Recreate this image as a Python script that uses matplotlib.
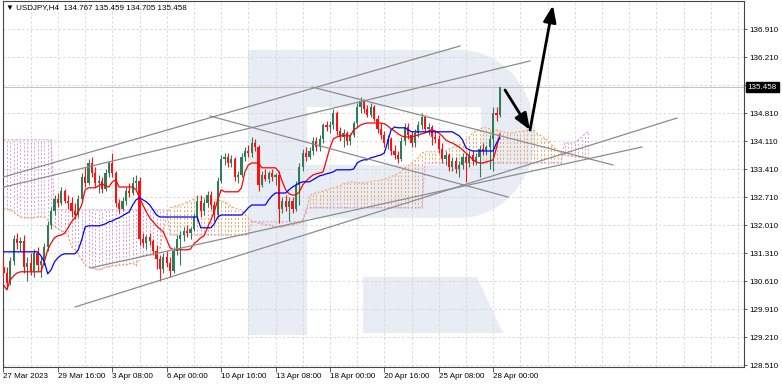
import matplotlib
matplotlib.use("Agg")
import matplotlib.pyplot as plt
from matplotlib.patches import Rectangle, Polygon, Ellipse
from matplotlib.transforms import blended_transform_factory
import numpy as np

plt.rcParams['font.family'] = ['Liberation Sans', 'DejaVu Sans']

# ---------------- data (H4 bars, index 0 = 27 Mar 2023 00:00) ----------------
open_ = [130.95,130.80,130.55,131.10,131.65,131.55,131.60,130.95,131.05,130.85,
         131.30,131.00,131.10,131.45,132.00,132.35,132.65,132.55,132.85,132.60,
         132.55,132.35,132.25,132.65,133.20,133.05,133.55,133.30,133.05,133.10,
         132.90,133.30,133.55,133.30,132.55,132.40,132.60,132.85,132.80,133.05,
         133.10,131.65,131.55,131.70,131.60,131.35,131.15,130.90,131.20,131.05,
         130.85,131.35,131.65,131.75,131.85,131.80,131.90,132.20,132.60,132.35,
         132.55,132.75,132.50,132.25,133.10,133.65,133.70,133.55,133.65,133.20,
         133.25,133.70,133.85,133.80,134.05,133.95,133.00,133.25,133.15,133.30,
         133.20,133.25,132.40,132.60,132.45,132.60,132.40,133.00,133.45,133.80,
         133.70,133.85,134.10,133.95,134.15,134.50,134.45,134.50,134.80,134.35,
         134.20,134.30,134.10,134.25,134.55,134.95,135.10,134.90,134.75,134.95,
         134.65,134.40,134.25,134.05,134.15,133.85,133.75,133.65,134.10,134.45,
         134.25,134.05,134.30,134.50,134.70,134.40,134.45,134.20,134.15,133.90,
         133.65,133.75,133.45,133.60,133.40,133.50,133.70,133.55,133.75,133.60,
         133.70,133.90,133.85,133.95,134.15,134.80,134.767]
high = [131.15,130.95,131.20,131.75,131.80,131.70,131.75,131.20,131.30,131.40,
        131.45,131.20,131.55,132.10,132.45,132.75,132.80,132.95,132.90,132.75,
        132.70,132.55,132.75,133.30,133.45,133.65,133.70,133.45,133.25,133.20,
        133.40,133.60,133.80,133.35,132.65,132.70,132.95,133.05,133.20,133.25,
        133.20,131.80,131.75,131.80,131.65,131.50,131.25,131.30,131.35,131.20,
        131.45,131.75,131.85,131.95,132.00,131.95,132.30,132.75,132.75,132.65,
        132.85,132.85,132.60,133.20,133.75,133.80,133.80,133.75,133.70,133.35,
        133.80,133.95,134.00,134.20,134.15,134.00,133.35,133.40,133.35,133.40,
        133.30,133.35,132.70,132.75,132.70,132.70,133.10,133.55,133.90,133.95,
        133.95,134.20,134.20,134.25,134.55,134.60,134.60,134.90,134.85,134.45,
        134.40,134.35,134.30,134.60,135.05,135.20,135.15,135.00,135.05,135.00,
        134.75,134.55,134.35,134.25,134.20,134.00,133.85,134.20,134.55,134.55,
        134.35,134.40,134.60,134.80,134.75,134.55,134.50,134.35,134.25,134.05,
        133.85,133.80,133.70,133.70,133.60,133.80,133.80,133.85,133.85,133.80,
        134.00,134.05,134.00,134.25,134.95,134.95,135.459]
low = [130.70,130.40,130.50,131.00,131.40,131.35,130.80,130.60,130.75,130.70,
       130.85,130.70,131.00,131.35,131.90,132.25,132.45,132.50,132.55,132.40,
       132.20,132.15,132.20,132.60,132.95,133.00,133.20,132.95,132.80,132.80,
       132.85,133.20,133.20,132.45,132.30,132.35,132.50,132.70,132.75,132.90,
       131.50,131.45,131.40,131.50,131.25,130.90,130.60,130.80,130.95,130.70,
       130.80,131.25,131.00,131.60,131.70,131.65,131.85,132.10,132.20,132.25,
       132.45,132.40,132.10,132.20,133.05,133.50,133.45,133.45,133.10,133.05,
       133.20,133.60,133.70,133.70,133.85,132.85,132.95,133.10,133.05,133.10,
       133.00,132.05,132.30,132.35,132.10,132.30,132.35,132.50,133.35,133.60,
       133.65,133.75,133.85,133.85,134.05,134.35,134.30,134.40,134.25,134.10,
       133.95,134.00,134.00,134.20,134.45,134.80,134.80,134.70,134.70,134.60,
       134.30,134.15,133.95,133.90,133.75,133.65,133.55,133.60,134.00,134.15,
       133.95,133.95,134.20,134.40,134.35,134.25,134.00,134.05,133.80,133.55,
       133.50,133.35,133.35,133.30,133.20,133.40,133.08,133.45,133.50,133.50,
       133.20,133.75,133.75,133.40,133.35,134.60,134.705]
close = [130.80,130.55,131.10,131.65,131.55,131.60,130.95,131.05,130.85,131.30,
         131.00,131.10,131.45,132.00,132.35,132.65,132.55,132.85,132.60,132.55,
         132.35,132.25,132.65,133.20,133.05,133.55,133.30,133.05,133.10,132.90,
         133.30,133.55,133.30,132.55,132.40,132.60,132.85,132.80,133.05,133.10,
         131.65,131.55,131.70,131.60,131.35,131.15,130.90,131.20,131.05,130.85,
         131.35,131.65,131.75,131.85,131.80,131.90,132.20,132.60,132.35,132.55,
         132.75,132.50,132.25,133.10,133.65,133.70,133.55,133.65,133.20,133.25,
         133.70,133.85,133.80,134.05,133.95,133.00,133.25,133.15,133.30,133.20,
         133.25,132.40,132.60,132.45,132.60,132.40,133.00,133.45,133.80,133.70,
         133.85,134.10,133.95,134.15,134.50,134.45,134.50,134.80,134.35,134.20,
         134.30,134.10,134.25,134.55,134.95,135.10,134.90,134.75,134.95,134.65,
         134.40,134.25,134.05,134.15,133.85,133.75,133.65,134.10,134.45,134.25,
         134.05,134.30,134.50,134.70,134.40,134.45,134.20,134.15,133.90,133.65,
         133.75,133.45,133.60,133.40,133.50,133.70,133.55,133.75,133.60,133.70,
         133.90,133.85,133.95,134.15,134.80,134.767,135.458]

tenkan = ([130.51,130.39,130.64,130.74,130.81] + [130.84]*7 +
          [131.09,131.39,131.56,131.69,131.74,131.76,131.81,131.94,132.09,132.19,132.34,132.51] +
          [132.89,132.94,132.94,132.94,132.99,133.04,132.99,132.96,133.09,133.14] + [132.96]*5 +
          [132.89,132.69,132.51,132.34,132.19,132.09,131.99,131.91,131.84,131.64,131.44] + [131.39]*5 +
          [131.41,131.54,131.61,131.69,131.74,131.94,132.14,132.34,132.64,132.89] + [132.84]*5 +
          [132.94,133.34,133.51] + [133.56]*3 + [133.44]*5 +
          [133.34,133.09,132.89,132.79,132.76,132.76,132.84,133.01,133.11,133.19,133.26,133.29,
           133.31,133.34,133.64,133.94,134.16,134.21] + [134.24]*4 +
          [134.39,134.44,134.51,134.54] + [134.56]*5 +
          [134.54,134.49,134.41,134.36,134.29,134.24] + [134.21]*3 +
          [134.24,134.26,134.29,134.31,134.36,134.39,134.36,134.31,134.24,134.14,134.09,134.06,
           134.01,133.96,133.89,133.81,133.74,133.64,133.59,133.56,133.56,133.59,133.61,133.64,
           133.94,134.29])

kijun = ([131.34]*11 + [131.24,131.09,130.79,130.89,131.09,131.19,131.26] + [131.29]*4 +
         [131.39,131.64,131.96] + [131.99]*4 +
         [132.01,132.04,132.09,132.11,132.16,132.19,132.24,132.29,132.34,132.51,132.64,132.69,
          132.64,132.59,132.51,132.39,132.26] + [132.21]*12 + [131.94]*4 + [132.04,132.21] +
         [132.26]*7 + [132.34,132.44] + [132.51]*5 + [132.64,132.74] + [132.81]*4 +
         [132.89,132.96,133.01,133.06] + [133.09]*3 +
         [133.14,133.19,133.24,133.26,133.29,133.31,133.34] + [133.39]*5 +
         [133.41,133.56,133.61,133.64,133.64,133.69,133.71,133.74,133.76,133.81,134.09,134.39,
          134.46] + [134.44]*3 + [134.39] + [134.34]*13 +
         [134.29,134.24,134.14,133.94,133.89] + [133.86]*7 + [134.06,134.19])

senkou_a = ([132.41,132.41,132.39,132.34,132.26,132.21,132.19,132.19,132.19,132.19,132.21,132.21,132.21] +
            [132.14,132.06,131.96,131.91,131.86,131.84,131.74,131.46,131.39,131.29,131.14,131.01,
             130.96,130.94,130.91,130.89] +
            [130.91,130.96,130.96,130.99,130.99,131.01,131.01,131.01,131.04,131.06,130.99,131.21,
             131.24,131.26,131.26,131.31,131.36,131.44] +
            [131.84,132.26,132.44,132.46,132.49,132.51,132.54,132.59,132.61,132.66,132.69,132.71] +
            [132.69,132.66,132.64,132.64,132.64,132.61,132.59,132.54,132.46,132.44,132.41,132.39,
             132.29,132.19] +
            [132.11,132.09,132.06,132.04,132.01,132.01,131.99,131.96,131.96,131.96,131.99,132.01,
             132.01,132.04,132.06,132.14,132.31] +
            [132.74,132.79,132.81,132.84,132.86,132.89,132.91,132.94,132.96,132.99,133.04,133.06,
             133.09,133.09,133.06,133.06,133.06,133.06] +
            [133.09,133.11,133.11,133.14,133.14,133.19,133.21,133.26,133.29,133.34,133.44,133.49,
             133.56,133.61,133.69,133.81,133.84] + [133.84]*5 +
            [133.86,133.91,133.94,133.99,134.01,134.06,134.14,134.21,134.31,134.36,134.41,134.44,
             134.44,134.41,134.39,134.39,134.36] +
            [134.34,134.31,134.31,134.31,134.34,134.34,134.36,134.39,134.41,134.36,134.29,134.24,
             134.19,134.14,134.04,133.94,133.86,133.81,133.76,133.74,133.74,133.71,133.71,133.71,
             133.69,133.69])

senkou_b = ([134.14]*15 + [132.39]*34 + [131.76]*24 + [132.09]*16 + [132.44]*35 +
            [133.56]*41 + [134.06]*4 + [134.14,134.21,134.29,134.34])

# trend lines drawn on the chart: (bar index, price) end points
trend_lines = [((-1.03, 133.185), (134.26, 136.485)),
               ((-1.03, 132.935), (154.85, 136.110)),
               ((90.74, 135.460), (179.26, 133.510)),
               ((60.74, 134.735), (148.38, 132.710)),
               ((21.03, 129.960), (198.09, 134.685)),
               ((25.44, 130.935), (187.79, 133.960))]
# forecast arrows: (start, end)
arrows = [((147.5, 135.385), (154.85, 134.385)),
          ((154.85, 134.385), (161.6, 137.50))]

price_ticks = [128.510,129.210,129.910,130.610,131.310,132.010,132.710,
               133.410,134.110,134.810,135.510,136.210,136.910]
x_tick_bars = [0,16,32,48,64,80,96,112,128,144]
x_tick_labels = ['27 Mar 2023','29 Mar 16:00','3 Apr 08:00','6 Apr 00:00','10 Apr 16:00',
                 '13 Apr 08:00','18 Apr 00:00','20 Apr 16:00','25 Apr 08:00','28 Apr 00:00']
last_price = 135.458
header = '\u25bc USDJPY,H4  134.767 135.459 134.705 135.458'

# ---------------- figure ----------------
W, H = 782, 385
fig = plt.figure(figsize=(W/100, H/100), dpi=100)
fig.patch.set_facecolor('white')
Lp, Rp, Tp, Bp = 2.5, 744, 1, 367
ax = fig.add_axes([Lp/W, 1-Bp/H, (Rp-Lp)/W, (Bp-Tp)/H])
ax.set_xlim(-0.294, 217.79)
ax.set_ylim(128.46, 137.61)
ax.set_facecolor('white')

# watermark logo (figure pixel geometry)
WM = '#e8edf5'
def fp(x, y):
    return (x/W, 1-y/H)
tf = fig.transFigure
def fig_rect(x0, y0, x1, y1, color):
    return Rectangle(fp(x0, y1), (x1-x0)/W, (y1-y0)/H, transform=tf,
                     facecolor=color, edgecolor='none', zorder=0.5)
ax.add_patch(fig_rect(248, 50, 307, 335, WM))
ax.add_patch(fig_rect(306, 50, 460, 218, WM))
ax.add_patch(Ellipse(fp(460, 134), 2*75/W, 2*84/H, transform=tf,
                     facecolor=WM, edgecolor='none', zorder=0.5))
ax.add_patch(fig_rect(307, 107, 481, 165, 'white'))
ax.add_patch(Polygon([fp(363, 277), fp(477, 277), fp(503, 333), fp(363, 333)],
                     closed=True, transform=tf, facecolor=WM, edgecolor='none', zorder=0.5))

# grid
GRID = '#d4d4d4'
for p in price_ticks:
    ax.axhline(p, color=GRID, lw=0.6, ls=(0, (3, 2.5)), zorder=1)
for b in range(0, 218, 8):
    ax.axvline(b, color=GRID, lw=0.6, ls=(0, (3, 2.5)), zorder=1)

# ichimoku cloud
ORANGE = '#f4a460'
PLUM = '#d7a0d7'
sa = np.array(senkou_a)
sb = np.array(senkou_b)
ci = np.arange(len(sa))
cols = [ORANGE if a >= b else PLUM for a, b in zip(sa, sb)]
ax.vlines(ci, np.minimum(sa, sb), np.maximum(sa, sb), colors=cols,
          linestyles=(0, (2, 2)), lw=0.7, zorder=2)
ax.plot(ci, sa, color=ORANGE, lw=0.8, ls=(0, (2, 1.5)), zorder=2.5)
ax.plot(ci, sb, color=PLUM, lw=0.8, ls=(0, (2, 1.5)), zorder=2.5)

# bid line
ax.axhline(last_price, color='#c4c4c4', lw=0.8, zorder=2)

# candles
o = np.array(open_); h = np.array(high); l = np.array(low); c = np.array(close)
idx = np.arange(len(c))
BULL, BEAR = '#2e7d57', '#ff1010'
ccol = [BULL if cc >= oo else BEAR for oo, cc in zip(o, c)]
ax.vlines(idx, l, h, colors=ccol, lw=0.8, zorder=4)
ax.bar(idx, np.maximum(np.abs(c-o), 0.012), bottom=np.minimum(o, c), width=0.66,
       color=ccol, lw=0, zorder=4)

# tenkan / kijun
ax.plot(idx, tenkan, color='#ff0000', lw=0.9, zorder=5)
ax.plot(idx, kijun, color='#0000ff', lw=0.9, zorder=5)

# trend lines
for (x0, y0), (x1, y1) in trend_lines:
    ax.plot([x0, x1], [y0, y1], color='#8c8c8c', lw=0.9, zorder=6)

# arrows
for (x0, y0), (x1, y1) in arrows:
    ax.annotate('', xy=(x1, y1), xytext=(x0, y0),
                arrowprops=dict(arrowstyle='-|>,head_length=0.9,head_width=0.35',
                                color='black', lw=2.0, mutation_scale=11,
                                shrinkA=0, shrinkB=0), zorder=7)

# axes styling
for s in ['left', 'top', 'right', 'bottom']:
    ax.spines[s].set_color('#444444')
    ax.spines[s].set_linewidth(0.8)
ax.yaxis.tick_right()
ax.set_yticks(price_ticks)
# the 135.510 label is hidden behind the last-price box in the reference
ax.set_yticklabels(['' if abs(p - last_price) < 0.1 else f'{p:.3f}' for p in price_ticks])
ax.tick_params(axis='y', direction='out', length=2.5, pad=1.5, labelsize=5.8,
               width=0.6, color='#444444')
ax.set_xticks(x_tick_bars)
ax.set_xticklabels(x_tick_labels)
ax.tick_params(axis='x', direction='out', length=3.5, pad=1.0, labelsize=5.8,
               width=0.6, color='#444444')
for t in ax.get_xticklabels():
    t.set_horizontalalignment('left')

# last price label
trans = blended_transform_factory(ax.transAxes, ax.transData)
ax.text(1.005, last_price, f'{last_price:.3f}', transform=trans, color='white',
        fontsize=5.8, va='center', ha='left', zorder=10, clip_on=False,
        bbox=dict(boxstyle='square,pad=0.2', facecolor='black', edgecolor='black'))

fig.text(6/W, 1-8/H, header, fontsize=5.8, va='center', ha='left', color='black')

fig.savefig('out.png', dpi=100, facecolor='white')
